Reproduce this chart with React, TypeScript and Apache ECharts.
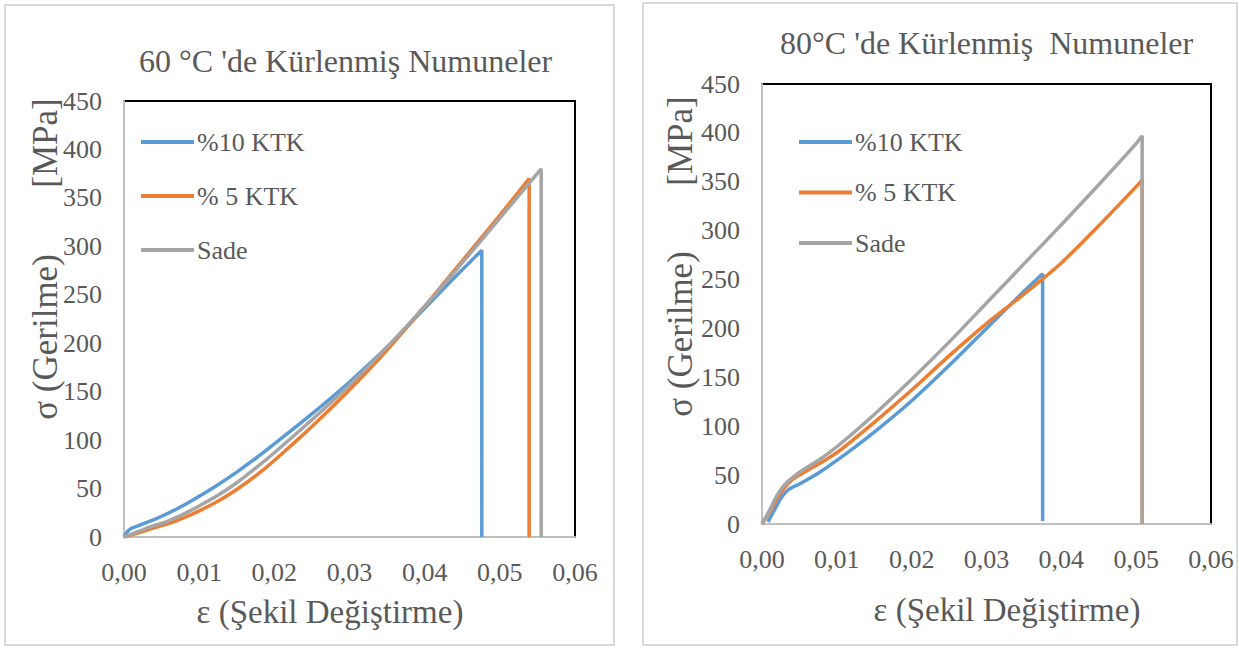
import React, { useEffect, useRef } from "react";
import * as echarts from "echarts";

// ---- Data (strain, stress [MPa]) ----
const xTicks = [0, 0.01, 0.02, 0.03, 0.04, 0.05, 0.06];
const seriesNames = ["%10 KTK", "% 5 KTK", "Sade"];

// 60 °C cured specimens
const blue60: number[][] = [[0,0],[0.0005,6],[0.001,9],[0.002,12],[0.004,18],[0.006,25],[0.008,33],[0.01,42],[0.0125,54],[0.015,67],[0.0175,81],[0.02,96],[0.025,127],[0.03,160],[0.035,196],[0.04,236],[0.044,268],[0.0476,296],[0.0476,0]];
const orange60: number[][] = [[0,0],[0.001,2],[0.003,7],[0.006,14],[0.008,20],[0.01,27],[0.0125,37],[0.015,49],[0.0175,63],[0.02,79],[0.025,114],[0.03,152],[0.035,193],[0.04,238],[0.045,285],[0.05,332],[0.0539,370],[0.0539,0]];
const gray60: number[][] = [[0,0],[0.001,3],[0.003,9],[0.006,17],[0.008,24],[0.01,32],[0.0125,43],[0.015,56],[0.0175,71],[0.02,87],[0.025,121],[0.03,157],[0.035,196],[0.04,238],[0.045,283],[0.05,329],[0.0555,380],[0.0555,0]];

// 80 °C cured specimens
const blue80: number[][] = [[0.0008,2],[0.0015,12],[0.0025,26],[0.0035,35],[0.005,41],[0.0075,52],[0.01,65],[0.015,94],[0.02,126],[0.025,162],[0.03,200],[0.035,238],[0.0375,256],[0.0375,3]];
const orange80: number[][] = [[0,0],[0.001,12],[0.002,26],[0.003,37],[0.004,45],[0.005,50],[0.0075,61],[0.01,73],[0.015,104],[0.02,137],[0.025,172],[0.03,205],[0.035,235],[0.04,267],[0.045,305],[0.05,345],[0.0508,352],[0.0508,0]];
const gray80: number[][] = [[0,0],[0.001,14],[0.002,29],[0.003,40],[0.004,47],[0.005,53],[0.0075,65],[0.01,79],[0.015,112],[0.02,148],[0.025,186],[0.03,226],[0.035,266],[0.04,306],[0.045,347],[0.05,389],[0.0508,397],[0.0508,0]];

const colors = ["#5B9BD5", "#ED7D31", "#A5A5A5"];
const FONT = "Liberation Serif";
const TXT = "#595959";

export default function App() {
  const ref = useRef<HTMLDivElement>(null);
  useEffect(() => {
    if (!ref.current) return;
    const chart = echarts.init(ref.current, undefined, { renderer: "svg" });

    const xAxisCfg = (gridIndex: number) => ({
      type: "value",
      gridIndex,
      min: xTicks[0],
      max: xTicks[xTicks.length - 1],
      interval: 0.01,
      axisLine: { lineStyle: { color: "#BFBFBF", width: 2 } },
      axisTick: { show: false },
      splitLine: { show: false },
      axisLabel: {
        margin: 22,
        fontSize: 26,
        color: TXT,
        fontFamily: FONT,
        formatter: (v: number) => v.toFixed(2).replace(".", ","),
      },
    });
    const yAxisCfg = (gridIndex: number) => ({
      type: "value",
      gridIndex,
      min: 0,
      max: 450,
      interval: 50,
      axisLine: { show: true, lineStyle: { color: "#BFBFBF", width: 2 } },
      axisTick: { show: false },
      splitLine: { show: false },
      axisLabel: { margin: 22, fontSize: 26, color: TXT, fontFamily: FONT },
    });
    const mk = (name: string, data: number[][], idx: number, color: string) => ({
      type: "line",
      name,
      data,
      xAxisIndex: idx,
      yAxisIndex: idx,
      showSymbol: false,
      smooth: 0.2,
      lineStyle: { width: 3.5, color },
      itemStyle: { color },
    });
    const legendCfg = (left: number, top: number, gap: number) => ({
      orient: "vertical",
      left,
      top,
      itemGap: gap,
      icon: "rect",
      itemWidth: 53,
      itemHeight: 4,
      data: seriesNames,
      textStyle: { fontSize: 26, color: TXT, fontFamily: FONT, padding: [0, 0, 0, -2] },
    });
    const vText = (text: string, x: number, y: number) => ({
      type: "text", x, y, rotation: Math.PI / 2,
      style: { text, fontSize: 35, fill: TXT, fontFamily: FONT, align: "center", verticalAlign: "middle" },
    });

    chart.setOption({
      animation: false,
      backgroundColor: "#fff",
      title: [
        {
          text: "60 °C 'de Kürlenmiş Numuneler",
          left: 134,
          top: 40,
          textStyle: { fontSize: 32, fontWeight: "normal", color: TXT, fontFamily: FONT },
        },
        {
          text: "80°C 'de Kürlenmiş  Numuneler",
          left: 775,
          top: 22,
          textStyle: { fontSize: 32, fontWeight: "normal", color: TXT, fontFamily: FONT },
        },
      ],
      legend: [legendCfg(136, 124, 28), legendCfg(794, 124, 24.5)],
      grid: [
        { left: 124, right: 664, top: 101, bottom: 112, show: true, borderColor: "#000", borderWidth: 2 },
        { left: 762, right: 28, top: 84, bottom: 125, show: true, borderColor: "#000", borderWidth: 2 },
      ],
      xAxis: [xAxisCfg(0), xAxisCfg(1)],
      yAxis: [yAxisCfg(0), yAxisCfg(1)],
      series: [
        mk(seriesNames[0], blue60, 0, colors[0]),
        mk(seriesNames[1], orange60, 0, colors[1]),
        mk(seriesNames[2], gray60, 0, colors[2]),
        mk(seriesNames[0], blue80, 1, colors[0]),
        mk(seriesNames[1], orange80, 1, colors[1]),
        mk(seriesNames[2], gray80, 1, colors[2]),
      ],
      graphic: [
        { type: "rect", shape: { x: 5, y: 5, width: 609, height: 640 }, style: { fill: "none", stroke: "#D9D9D9", lineWidth: 2 }, silent: true },
        { type: "rect", shape: { x: 643, y: 3, width: 594, height: 642 }, style: { fill: "none", stroke: "#D9D9D9", lineWidth: 2 }, silent: true },
        vText("σ (Gerilme)", 45, 337),
        vText("[MPa]", 45, 143),
        vText("σ (Gerilme)", 680, 334),
        vText("[MPa]", 680, 141),
        {
          type: "text", x: 330, y: 612,
          style: { text: "ε (Şekil Değiştirme)", fontSize: 33, fill: TXT, fontFamily: FONT, align: "center", verticalAlign: "middle" },
        },
        {
          type: "text", x: 1007, y: 610,
          style: { text: "ε (Şekil Değiştirme)", fontSize: 33, fill: TXT, fontFamily: FONT, align: "center", verticalAlign: "middle" },
        },
      ],
    });
    return () => chart.dispose();
  }, []);
  return (
    <div
      ref={ref}
      style={{ position: "absolute", left: 0, top: 0, width: 1239, height: 649 }}
    />
  );
}
